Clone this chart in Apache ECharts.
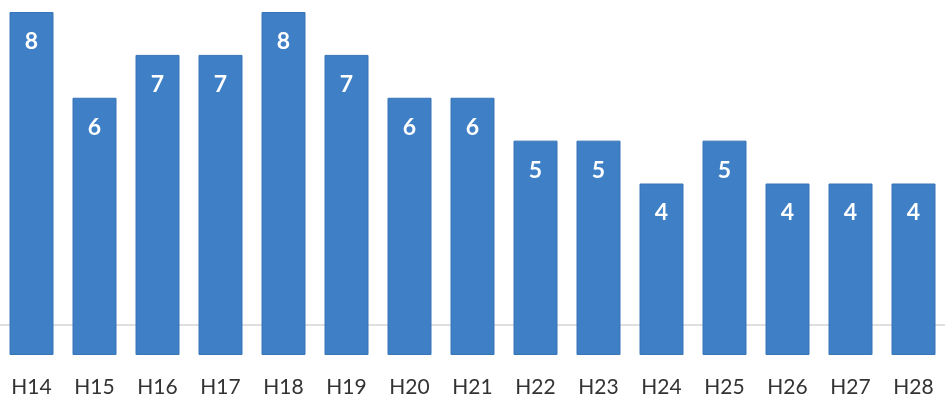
<!DOCTYPE html>
<html>
<head>
<meta charset="utf-8">
<script src="https://cdn.jsdelivr.net/npm/echarts@6/dist/echarts.min.js"></script>
<style>
  html, body { margin: 0; padding: 0; background: #ffffff; }
  #chart { width: 945px; height: 398px; }
</style>
</head>
<body>
<div id="chart"></div>
<script>
// Yearly counts, Heisei 14 through Heisei 28
const years = ['H14','H15','H16','H17','H18','H19','H20','H21','H22','H23','H24','H25','H26','H27','H28'];
const counts = [8, 6, 7, 7, 8, 7, 6, 6, 5, 5, 4, 5, 4, 4, 4];

const chart = echarts.init(document.getElementById('chart'), null, { renderer: 'canvas' });

chart.setOption({
  animation: false,
  backgroundColor: '#ffffff',
  grid: { left: -1, width: 954, top: 12, bottom: 41, containLabel: false },
  xAxis: {
    type: 'category',
    data: years,
    axisLine: { show: false },
    axisTick: { show: false },
    axisLabel: {
      color: '#333333',
      fontFamily: 'Lato, "Open Sans", sans-serif',
      fontSize: 21,
      margin: 22
    }
  },
  yAxis: {
    type: 'value',
    min: 0,
    max: 8,
    show: false,
    splitLine: { show: false }
  },
  series: [{
    type: 'bar',
    data: counts,
    barWidth: 44,
    itemStyle: { color: '#3e7fc6', borderColor: '#3874b6', borderWidth: 1 },
    label: {
      show: true,
      position: 'insideTop',
      distance: 18,
      color: '#ffffff',
      fontFamily: 'Lato, "Open Sans", sans-serif',
      fontWeight: 'bold',
      fontSize: 23
    },
    markLine: {
      silent: true,
      symbol: 'none',
      z: 0,
      label: { show: false },
      lineStyle: { color: '#d4d4d4', width: 1.5, type: 'solid' },
      data: [{ yAxis: 0.7 }]
    }
  }]
});
</script>
</body>
</html>
